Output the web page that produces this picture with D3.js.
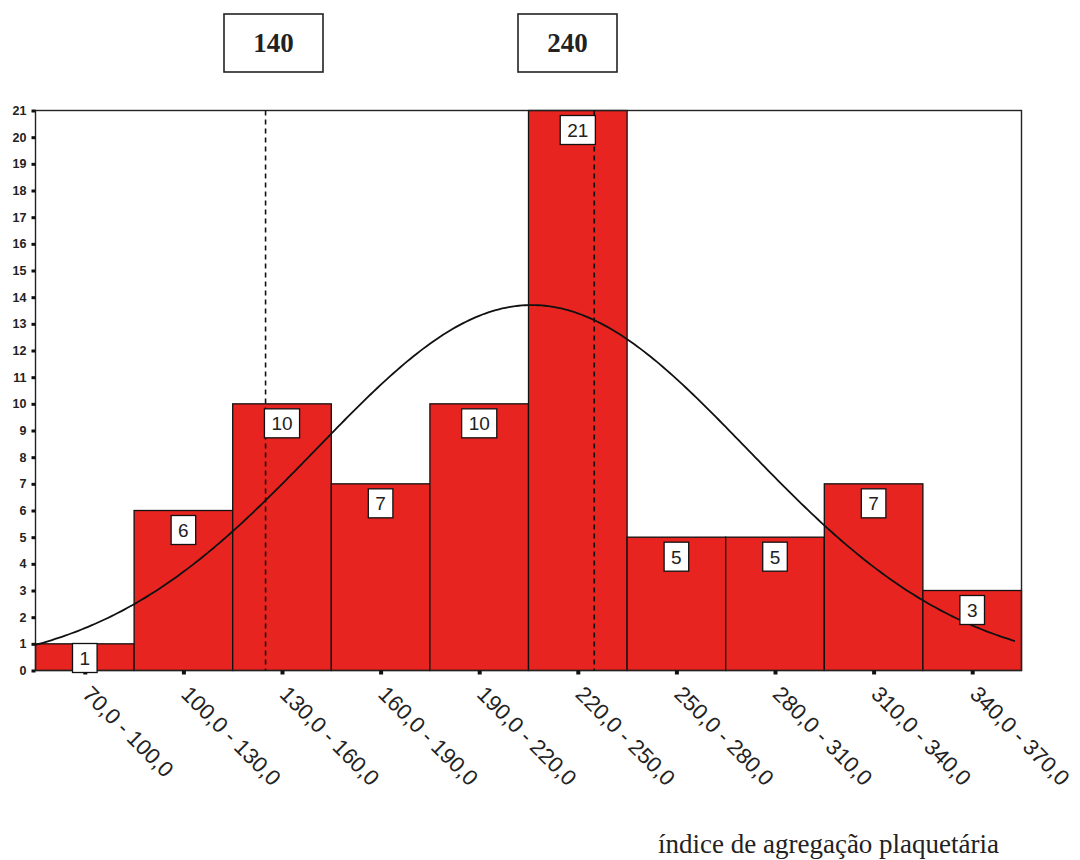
<!DOCTYPE html>
<html>
<head>
<meta charset="utf-8">
<script src="https://cdn.jsdelivr.net/npm/d3@7"></script>
<style>
  html, body { margin: 0; padding: 0; background: #fff; }
  svg { display: block; }
</style>
</head>
<body>
<svg id="chart" width="1080" height="860"></svg>
<script>
// ---- data ----
const binEdges = [70, 100, 130, 160, 190, 220, 250, 280, 310, 340, 370];
const categories = ["70,0 - 100,0", "100,0 - 130,0", "130,0 - 160,0", "160,0 - 190,0",
  "190,0 - 220,0", "220,0 - 250,0", "250,0 - 280,0", "280,0 - 310,0",
  "310,0 - 340,0", "340,0 - 370,0"];
const counts = [1, 6, 10, 7, 10, 21, 5, 5, 7, 3];
const yTicks = [0,1,2,3,4,5,6,7,8,9,10,11,12,13,14,15,16,17,18,19,20,21];
const refLines = [140, 240];
const refLabels = ["140", "240"];
const normalFit = { mean: 221, sd: 65.5 };   // fitted normal curve parameters (estimated)
const xTitle = "índice de agregação plaquetária";

// ---- layout ----
const svg = d3.select("#chart");
const pL = 35.5, pR = 1021.5, pT = 110.5, pB = 670.5;
const x = d3.scaleLinear().domain([70, 370]).range([pL, pR]);
const y = d3.scaleLinear().domain([0, 21]).range([pB, pT]);
const red = "#e82420";

// bars
const bins = counts.map((c, i) => ({ x0: binEdges[i], x1: binEdges[i + 1], c, label: categories[i] }));
svg.append("g").selectAll("rect").data(bins).join("rect")
  .attr("x", d => x(d.x0)).attr("y", d => y(d.c))
  .attr("width", d => x(d.x1) - x(d.x0)).attr("height", d => y(0) - y(d.c))
  .attr("fill", red).attr("stroke", "#111").attr("stroke-width", 1.3);

// frame
svg.append("rect").attr("x", pL).attr("y", pT)
  .attr("width", pR - pL).attr("height", pB - pT)
  .attr("fill", "none").attr("stroke", "#222").attr("stroke-width", 1.4);

// reference dashed lines
svg.append("g").selectAll("line").data(refLines).join("line")
  .attr("x1", d => x(d)).attr("x2", d => x(d))
  .attr("y1", pT).attr("y2", pB)
  .attr("stroke", "#111").attr("stroke-width", 1.6).attr("stroke-dasharray", "5,4");

// normal curve
const N = d3.sum(counts), bw = binEdges[1] - binEdges[0];
const dens = v => N * bw / (normalFit.sd * Math.sqrt(2 * Math.PI)) *
  Math.exp(-0.5 * Math.pow((v - normalFit.mean) / normalFit.sd, 2));
const xs = d3.range(70, 368.01, 1);
svg.append("path").datum(xs)
  .attr("d", d3.line().x(v => x(v)).y(v => y(dens(v))))
  .attr("fill", "none").attr("stroke", "#111").attr("stroke-width", 1.8);

// y axis
const yAxis = svg.append("g").attr("transform", `translate(${pL},0)`)
  .call(d3.axisLeft(y).tickValues(yTicks).tickSize(4).tickPadding(5).tickFormat(d3.format("d")));
yAxis.select(".domain").remove();
yAxis.selectAll(".tick line").attr("stroke", "#111").attr("stroke-width", 3);
yAxis.selectAll(".tick text").attr("font-family", "Arial, 'Liberation Sans', sans-serif")
  .attr("font-size", 12.5).attr("font-weight", "bold").attr("fill", "#222");

// x axis ticks at bin centers
const centers = bins.map(d => (d.x0 + d.x1) / 2);
const xAxis = svg.append("g").attr("transform", `translate(0,${pB})`)
  .call(d3.axisBottom(x).tickValues(centers).tickSize(4).tickFormat((d, i) => categories[i]));
xAxis.select(".domain").remove();
xAxis.selectAll(".tick line").attr("stroke", "#111").attr("stroke-width", 4);
xAxis.selectAll(".tick text")
  .attr("font-family", "Arial, 'Liberation Sans', sans-serif").attr("font-size", 22).attr("fill", "#222")
  .attr("text-anchor", "start").attr("dy", 0)
  .attr("transform", "translate(-4,25) rotate(45)").attr("y", 0).attr("x", 0);

// value label boxes
const lab = svg.append("g").selectAll("g").data(bins).join("g");
const boxH = 29;
lab.each(function (d) {
  const g = d3.select(this);
  const cx = x((d.x0 + d.x1) / 2);
  const t = g.append("text").text(d.c)
    .attr("font-family", "Arial, 'Liberation Sans', sans-serif").attr("font-size", 19)
    .attr("fill", "#222").attr("text-anchor", "middle");
  const w = t.node().getComputedTextLength() + 14;
  const ty = Math.min(y(d.c) + 5, pB + 2 - boxH);
  g.insert("rect", "text").attr("x", cx - w / 2).attr("y", ty).attr("width", w).attr("height", boxH)
    .attr("fill", "#fff").attr("stroke", "#111").attr("stroke-width", 1.3);
  t.attr("x", cx).attr("y", ty + 21.5);
});

// top reference boxes
const boxPos = [[224, 14], [518, 14]];
refLabels.forEach((s, i) => {
  const [bx, by] = boxPos[i];
  svg.append("rect").attr("x", bx).attr("y", by).attr("width", 99).attr("height", 58)
    .attr("fill", "#fff").attr("stroke", "#222").attr("stroke-width", 1.6);
  svg.append("text").text(s).attr("x", bx + 49.5).attr("y", by + 38)
    .attr("text-anchor", "middle").attr("font-family", "'Liberation Serif', 'Times New Roman', serif")
    .attr("font-weight", "bold").attr("font-size", 27).attr("fill", "#222");
});

// x title
svg.append("text").text(xTitle).attr("x", 658).attr("y", 853)
  .attr("font-family", "'Liberation Serif', 'Times New Roman', serif")
  .attr("font-size", 27).attr("fill", "#222");
</script>
</body>
</html>
